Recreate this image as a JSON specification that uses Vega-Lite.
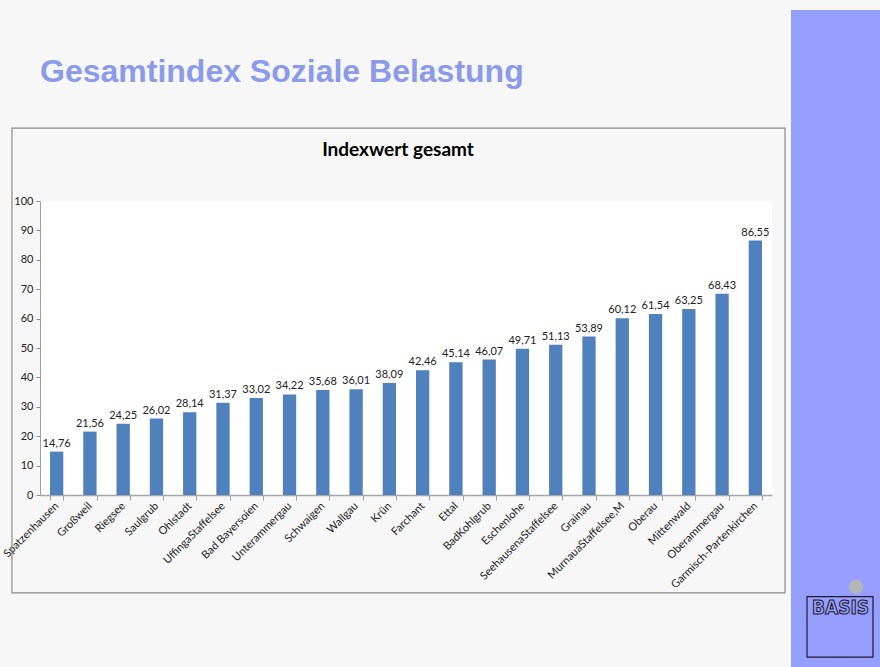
{
  "$schema": "https://vega.github.io/schema/vega-lite/v6.json",
  "background": "#f7f7f7",
  "padding": {"left": 1, "top": 10, "right": 0, "bottom": 0},
  "config": {
    "locale": {"number": {"decimal": ",", "thousands": ".", "grouping": [3], "currency": ["", " €"]}},
    "view": {"stroke": null},
    "font": "Lato"
  },
  "datasets": {
    "idx": [
      {"gemeinde": "Spatzenhausen", "wert": 14.76},
      {"gemeinde": "Großweil", "wert": 21.56},
      {"gemeinde": "Riegsee", "wert": 24.25},
      {"gemeinde": "Saulgrub", "wert": 26.02},
      {"gemeinde": "Ohlstadt", "wert": 28.14},
      {"gemeinde": "UffingaStaffelsee", "wert": 31.37},
      {"gemeinde": "Bad Bayersoien", "wert": 33.02},
      {"gemeinde": "Unterammergau", "wert": 34.22},
      {"gemeinde": "Schwaigen", "wert": 35.68},
      {"gemeinde": "Wallgau", "wert": 36.01},
      {"gemeinde": "Krün", "wert": 38.09},
      {"gemeinde": "Farchant", "wert": 42.46},
      {"gemeinde": "Ettal", "wert": 45.14},
      {"gemeinde": "BadKohlgrub", "wert": 46.07},
      {"gemeinde": "Eschenlohe", "wert": 49.71},
      {"gemeinde": "SeehausenaStaffelsee", "wert": 51.13},
      {"gemeinde": "Grainau", "wert": 53.89},
      {"gemeinde": "MurnauaStaffelsee,M", "wert": 60.12},
      {"gemeinde": "Oberau", "wert": 61.54},
      {"gemeinde": "Mittenwald", "wert": 63.25},
      {"gemeinde": "Oberammergau", "wert": 68.43},
      {"gemeinde": "Garmisch-Partenkirchen", "wert": 86.55}
    ],
    "titel": [{"text": "Gesamtindex Soziale Belastung"}],
    "rahmen": [{"rahmen": "Diagramm"}],
    "logo": [{"name": "BASIS"}]
  },
  "spacing": 5,
  "hconcat": [
    {
      "spacing": 0,
      "vconcat": [
        {
          "width": 732,
          "height": 117,
          "data": {"name": "titel"},
          "mark": {
            "type": "text",
            "align": "left",
            "baseline": "alphabetic",
            "font": "Liberation Sans",
            "fontSize": 32,
            "fontWeight": "bold",
            "color": "#8b9be9"
          },
          "encoding": {
            "x": {"datum": 0, "type": "quantitative", "scale": {"domain": [0, 1]}, "axis": null},
            "y": {"datum": 0.3846, "type": "quantitative", "scale": {"domain": [0, 1]}, "axis": null},
            "text": {"field": "text"}
          }
        },
        {
          "width": 732,
          "height": 294,
          "title": {
            "text": "Indexwert gesamt",
            "font": "Lato",
            "fontSize": 19,
            "fontWeight": "bold",
            "color": "#000000",
            "anchor": "middle",
            "dx": -8,
            "offset": -33
          },
          "view": {"fill": "#ffffff", "stroke": null},
          "resolve": {"scale": {"x": "independent", "y": "independent"}},
          "layer": [
            {
              "data": {"name": "rahmen"},
              "mark": {"type": "rect", "fill": null, "filled": false, "stroke": "#8a8a8a", "strokeWidth": 1.2, "clip": false},
              "encoding": {
                "x": {"datum": -0.0383, "type": "quantitative", "scale": {"domain": [0, 1]}, "axis": null},
                "x2": {"datum": 1.0178},
                "y": {"datum": -0.333, "type": "quantitative", "scale": {"domain": [0, 1]}, "axis": null},
                "y2": {"datum": 1.248}
              }
            },
            {
              "data": {"name": "idx"},
              "encoding": {
                "x": {
                  "field": "gemeinde",
                  "type": "nominal",
                  "sort": null,
                  "scale": {"paddingInner": 0.6, "paddingOuter": 0.3},
                  "axis": {
                    "title": null,
                    "labelAngle": -45,
                    "labelAlign": "right",
                    "labelBaseline": "middle",
                    "labelFontSize": 11,
                    "labelColor": "#222222",
                    "labelPadding": 4,
                    "labelLimit": 200,
                    "tickBand": "extent",
                    "tickColor": "#a0a0a0",
                    "tickSize": 5,
                    "domainColor": "#a6a6a6",
                    "domainWidth": 1.5
                  }
                },
                "y": {
                  "field": "wert",
                  "type": "quantitative",
                  "scale": {"domain": [0, 100]},
                  "axis": {
                    "title": null,
                    "values": [0, 10, 20, 30, 40, 50, 60, 70, 80, 90, 100],
                    "labelFontSize": 11,
                    "labelColor": "#222222",
                    "labelPadding": 3,
                    "tickSize": 4,
                    "tickColor": "#8c8c8c",
                    "gridColor": "#8c8c8c",
                    "gridWidth": 1,
                    "domainColor": "#a0a0a0"
                  }
                }
              },
              "layer": [
                {"mark": {"type": "bar", "color": "#4f81bd"}},
                {
                  "mark": {"type": "text", "dy": -8, "fontSize": 11, "color": "#222222"},
                  "encoding": {"text": {"field": "wert", "type": "quantitative", "format": ".2f"}}
                }
              ]
            }
          ]
        }
      ]
    },
    {
      "width": 90,
      "height": 657,
      "data": {"name": "logo"},
      "view": {"fill": "#979ffe", "stroke": null},
      "layer": [
        {
          "mark": {"type": "rect", "fill": null, "filled": false, "stroke": "#1a1a2a", "strokeWidth": 1.2},
          "encoding": {
            "x": {"datum": 0.178, "type": "quantitative", "scale": {"domain": [0, 1]}, "axis": null},
            "x2": {"datum": 0.911},
            "y": {"datum": 0.015, "type": "quantitative", "scale": {"domain": [0, 1]}, "axis": null},
            "y2": {"datum": 0.107}
          }
        },
        {
          "mark": {"type": "point", "filled": true, "color": "#b4b4b4", "size": 200, "opacity": 1},
          "encoding": {
            "x": {"datum": 0.722, "type": "quantitative"},
            "y": {"datum": 0.122, "type": "quantitative"}
          }
        },
        {
          "mark": {"type": "text", "font": "DejaVu Sans Condensed", "fontSize": 19, "fontWeight": "bold", "fill": null, "stroke": "#1a1a2a", "strokeWidth": 1},
          "encoding": {
            "x": {"datum": 0.55, "type": "quantitative"},
            "y": {"datum": 0.09, "type": "quantitative"},
            "text": {"field": "name"}
          }
        }
      ]
    }
  ]
}
